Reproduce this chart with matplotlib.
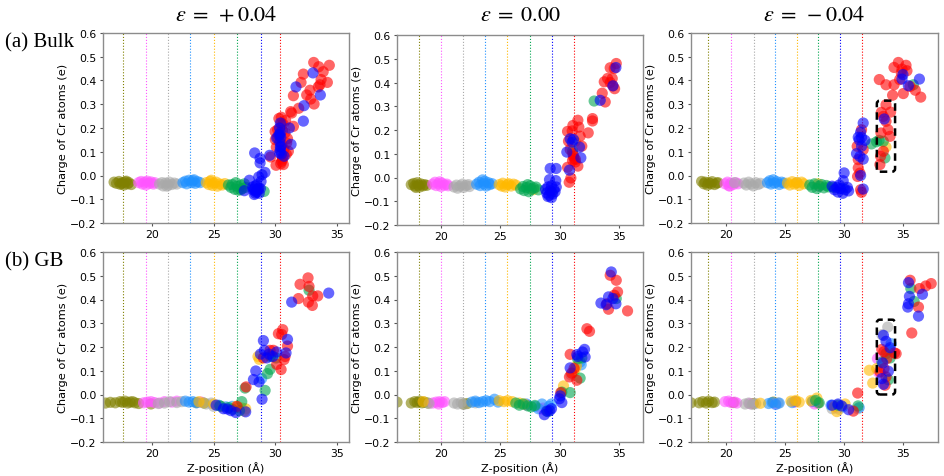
import matplotlib
matplotlib.use("Agg")
import matplotlib.pyplot as plt
from matplotlib.patches import FancyBboxPatch

# ---------------- data ----------------
col_names = ["olive", "pink", "gray", "lightblue", "orange", "green", "blue", "red"]
col_values = ["#808000", "#ff55ff", "#a9a9a9", "#1e90ff", "#ffb900", "#00a64f", "#0000ff", "#ff0000"]

titles = [r"$\varepsilon\;=\;+0.04$", r"$\varepsilon\;=\;0.00$", r"$\varepsilon\;=\;-0.04$"]
row_labels = ["(a) Bulk", "(b) GB"]
y_ticks = [-0.2, -0.1, 0.0, 0.1, 0.2, 0.3, 0.4, 0.5, 0.6]

lines_p04 = [17.62, 19.46, 21.25, 23.11, 25.0, 26.93, 28.83, 30.43]
lines_000 = [18.12, 19.97, 21.83, 23.68, 25.56, 27.5, 29.38, 31.18]
lines_m04 = [18.47, 20.43, 22.39, 24.12, 25.97, 27.84, 29.68, 31.5]

# ---- (a) Bulk, eps=+0.04
tl_olive = [(16.9,-0.028),(17.1,-0.033),(17.3,-0.025),(17.4,-0.037),(17.6,-0.030),(17.7,-0.040),(17.8,-0.027),(18.0,-0.035),(18.1,-0.030),(18.3,-0.038),(17.5,-0.034),(17.9,-0.024)]
tl_pink = [(18.9,-0.030),(19.1,-0.025),(19.2,-0.036),(19.4,-0.028),(19.5,-0.040),(19.6,-0.024),(19.8,-0.033),(19.9,-0.027),(20.1,-0.036),(20.2,-0.030)]
tl_gray = [(20.6,-0.036),(20.8,-0.030),(20.9,-0.044),(21.1,-0.032),(21.3,-0.040),(21.4,-0.028),(21.6,-0.038),(21.8,-0.032),(22.0,-0.036),(21.2,-0.045)]
tl_lightblue = [(22.5,-0.030),(22.7,-0.024),(22.8,-0.035),(23.0,-0.020),(23.2,-0.030),(23.3,-0.022),(23.5,-0.033),(23.7,-0.026),(23.9,-0.030),(23.4,-0.018)]
tl_orange = [(24.4,-0.030),(24.6,-0.038),(24.7,-0.025),(24.9,-0.042),(25.0,-0.032),(25.2,-0.028),(25.3,-0.045),(25.5,-0.036),(25.7,-0.040),(25.9,-0.034),(24.8,-0.020)]
tl_green = [(26.2,-0.040),(26.4,-0.050),(26.5,-0.038),(26.7,-0.058),(26.9,-0.045),(27.0,-0.062),(27.2,-0.040),(27.3,-0.055),(27.5,-0.035),(27.6,-0.050),(26.8,-0.030),(29.1,-0.067),(27.2,-0.060)]
tl_blue = [(33.07,0.432),(31.69,0.373),(32.34,0.294),(32.29,0.229),(33.67,0.339),(30.42,0.221),(31.15,0.200),(30.39,0.172),(30.12,0.158),(31.29,0.131),(30.47,0.123),(30.36,0.095),(30.72,0.081),(29.55,0.085),(28.33,0.095),(28.77,0.072),(28.77,0.053),(29.17,0.013),(28.93,0.003),(28.66,-0.006),(27.90,-0.020),(28.30,-0.057),(28.66,-0.053),(28.39,-0.074),(27.49,-0.064),(28.85,-0.025),(28.50,-0.039),(28.17,-0.048),(28.2,-0.060),(28.4,-0.065),(28.5,-0.070),(28.6,-0.060),(28.7,-0.075),(28.3,-0.080),(28.8,-0.055),(28.4,-0.045),(30.35,0.200),(30.40,0.180),(30.45,0.160),(30.38,0.140),(30.42,0.120),(30.40,0.105),(30.50,0.090),(30.30,0.170)]
tl_red = [(33.13,0.476),(33.54,0.458),(34.40,0.464),(33.90,0.437),(32.29,0.427),(32.10,0.392),(33.73,0.404),(34.24,0.392),(33.64,0.382),(33.50,0.373),(32.83,0.359),(32.56,0.339),(31.48,0.336),(32.89,0.322),(33.16,0.301),(31.91,0.283),(31.26,0.269),(31.34,0.263),(30.50,0.245),(30.85,0.232),(30.64,0.217),(31.48,0.207),(29.99,0.185),(30.20,0.193),(30.01,0.151),(30.93,0.137),(30.09,0.119),(31.07,0.102),(30.58,0.078),(30.07,0.043),(30.66,0.046),(30.53,0.060),(29.63,0.078),(30.30,0.240),(30.50,0.220),(30.60,0.190),(30.20,0.160),(30.55,0.130),(30.70,0.110),(30.60,0.070),(30.45,0.050),(30.90,0.090),(31.00,0.155),(30.80,0.180)]

# ---- (a) Bulk, eps=0.00
tm_olive = [(17.5,-0.030),(17.7,-0.025),(17.8,-0.036),(18.0,-0.022),(18.1,-0.032),(18.2,-0.040),(18.3,-0.027),(18.5,-0.035),(18.6,-0.030),(18.8,-0.033),(17.9,-0.042)]
tm_pink = [(19.3,-0.028),(19.5,-0.020),(19.6,-0.034),(19.8,-0.026),(20.0,-0.038),(20.1,-0.024),(20.3,-0.032),(20.5,-0.028),(20.6,-0.035),(19.9,-0.018)]
tm_gray = [(21.1,-0.040),(21.3,-0.032),(21.4,-0.045),(21.6,-0.036),(21.8,-0.028),(21.9,-0.042),(22.1,-0.034),(22.3,-0.030),(22.4,-0.038)]
tm_lightblue = [(23.0,-0.028),(23.2,-0.020),(23.3,-0.034),(23.5,-0.010),(23.6,-0.026),(23.8,-0.036),(24.0,-0.022),(24.1,-0.030),(24.3,-0.026),(23.7,-0.016)]
tm_orange = [(24.9,-0.030),(25.1,-0.036),(25.2,-0.024),(25.4,-0.040),(25.6,-0.030),(25.7,-0.026),(25.9,-0.036),(26.1,-0.028),(26.3,-0.032),(27.78,-0.051),(31.29,0.152)]
tm_green = [(26.7,-0.048),(26.9,-0.038),(27.0,-0.055),(27.2,-0.042),(27.4,-0.060),(27.5,-0.035),(27.6,-0.050),(27.8,-0.044),(28.0,-0.040),(28.2,-0.052),(27.3,-0.030),(29.33,-0.062),(32.89,0.322),(31.07,0.111)]
tm_blue = [(28.8,-0.050),(28.9,-0.065),(29.0,-0.040),(29.1,-0.075),(29.2,-0.055),(29.3,-0.035),(29.4,-0.070),(29.5,-0.050),(29.6,-0.060),(29.7,-0.040),(29.0,-0.080),(29.3,-0.085),(34.72,0.463),(34.47,0.386),(33.40,0.325),(30.87,0.163),(31.15,0.160),(31.04,0.149),(31.66,0.128),(30.59,0.107),(31.77,0.083),(30.81,0.031),(29.19,0.038),(29.69,0.038),(29.66,-0.013),(29.13,-0.009)]
tm_red = [(34.75,0.480),(34.24,0.462),(34.58,0.459),(33.74,0.403),(34.02,0.417),(34.41,0.417),(34.24,0.400),(34.61,0.374),(34.47,0.386),(33.57,0.355),(33.82,0.318),(32.75,0.248),(32.75,0.238),(31.52,0.241),(31.10,0.219),(31.60,0.212),(30.65,0.194),(32.39,0.188),(31.04,0.196),(31.71,0.174),(30.73,0.153),(31.85,0.132),(30.87,0.118),(31.15,0.090),(31.07,0.072),(31.32,0.076),(31.52,0.048),(30.65,0.043),(30.93,-0.002),(30.79,-0.020),(31.2,0.080),(31.1,0.100),(31.3,0.065)]

# ---- (a) Bulk, eps=-0.04
tr_olive = [(17.9,-0.025),(18.1,-0.035),(18.2,-0.028),(18.4,-0.040),(18.5,-0.030),(18.7,-0.035),(18.8,-0.026),(19.0,-0.038),(19.2,-0.032),(19.3,-0.030)]
tr_pink = [(19.9,-0.035),(20.1,-0.028),(20.2,-0.042),(20.4,-0.032),(20.6,-0.038),(20.8,-0.030),(21.0,-0.035),(20.3,-0.045),(27.9,-0.045)]
tr_gray = [(21.5,-0.032),(21.7,-0.040),(21.9,-0.028),(22.1,-0.036),(22.3,-0.044),(22.5,-0.030),(22.7,-0.038),(22.9,-0.033),(20.7,-0.030),(26.0,-0.030),(30.0,-0.050)]
tr_lightblue = [(23.5,-0.030),(23.7,-0.022),(23.8,-0.036),(24.0,-0.018),(24.1,-0.032),(24.3,-0.026),(24.5,-0.038),(24.7,-0.028),(24.9,-0.032),(29.9,-0.055)]
tr_orange = [(25.2,-0.032),(25.4,-0.040),(25.6,-0.026),(25.8,-0.036),(26.0,-0.030),(26.2,-0.042),(26.4,-0.028),(26.6,-0.035),(27.8,-0.035),(33.58,0.120)]
tr_green = [(27.1,-0.040),(27.3,-0.050),(27.5,-0.035),(27.7,-0.055),(27.9,-0.045),(28.1,-0.038),(28.3,-0.052),(28.5,-0.042),(28.7,-0.048),(29.1,-0.050),(35.90,0.382),(32.35,0.133),(32.78,0.142),(33.35,0.144),(33.49,0.074),(32.99,0.148)]
tr_blue = [(29.0,-0.045),(29.2,-0.060),(29.4,-0.050),(29.5,-0.070),(29.7,-0.055),(29.9,-0.075),(30.1,-0.060),(30.3,-0.050),(29.6,-0.040),(30.4,-0.065),(36.42,0.406),(35.02,0.425),(35.48,0.378),(34.94,0.406),(33.43,0.238),(31.64,0.221),(31.42,0.182),(31.22,0.161),(31.79,0.148),(31.50,0.123),(31.07,0.092),(31.64,0.069),(31.36,0.080),(31.42,0.000),(30.02,0.011),(31.64,-0.057),(29.94,-0.022),(31.3,0.150),(31.5,0.160)]
tr_red = [(34.63,0.476),(34.26,0.455),(35.28,0.464),(34.94,0.448),(35.36,0.441),(34.88,0.432),(33.01,0.404),(33.58,0.382),(34.26,0.382),(34.74,0.404),(36.07,0.359),(35.62,0.375),(36.53,0.330),(35.05,0.345),(34.14,0.338),(33.58,0.298),(33.18,0.266),(33.97,0.267),(33.35,0.249),(33.58,0.228),(33.75,0.193),(33.15,0.179),(33.92,0.165),(33.35,0.102),(33.12,0.081),(33.06,0.046),(31.50,0.193),(31.13,0.123),(31.64,0.109),(31.22,0.067),(31.22,0.032),(31.16,-0.004),(31.36,0.010),(31.50,-0.071),(31.42,-0.060)]

# ---- (b) GB, eps=+0.04
bl_olive = [(16.2,-0.036),(16.6,-0.033),(17.0,-0.035),(17.4,-0.030),(17.6,-0.033),(17.8,-0.028),(18.0,-0.036),(18.2,-0.032),(18.4,-0.030),(18.6,-0.035),(18.9,-0.038),(19.9,-0.040),(23.6,-0.034),(25.6,-0.050)]
bl_pink = [(19.3,-0.035),(19.6,-0.032),(19.9,-0.030),(20.2,-0.034),(20.6,-0.036),(21.0,-0.030),(21.6,-0.032),(22.0,-0.028),(24.0,-0.032)]
bl_gray = [(20.5,-0.038),(21.0,-0.036),(21.4,-0.030),(22.0,-0.034),(22.4,-0.030),(24.4,-0.040),(25.0,-0.050),(24.8,-0.036)]
bl_lightblue = [(22.7,-0.028),(23.0,-0.032),(23.3,-0.030),(23.6,-0.035),(24.2,-0.036),(25.4,-0.045),(26.0,-0.052),(28.9,0.067),(26.5,-0.050)]
bl_orange = [(23.8,-0.030),(24.2,-0.036),(25.0,-0.040),(26.8,-0.050),(27.0,-0.055),(27.3,-0.057),(27.5,-0.070),(28.71,0.148),(29.64,0.165),(28.6,0.160),(27.6,-0.060)]
bl_green = [(25.5,-0.048),(26.2,-0.055),(26.5,-0.062),(27.1,-0.068),(27.28,-0.030),(27.55,0.027),(29.18,0.017),(29.37,0.088),(29.58,0.106),(30.07,0.154),(32.75,0.439),(29.6,0.160)]
bl_blue = [(25.2,-0.045),(25.8,-0.060),(26.1,-0.061),(26.4,-0.068),(26.8,-0.076),(27.6,-0.073),(28.93,-0.020),(28.23,0.063),(28.42,0.099),(28.69,0.053),(29.04,0.227),(29.12,0.186),(29.31,0.154),(30.12,0.179),(30.88,0.175),(31.0,0.232),(31.34,0.389),(34.35,0.427),(28.8,0.170),(29.5,0.170),(29.8,0.160)]
bl_red = [(32.67,0.491),(32.02,0.464),(32.75,0.455),(33.05,0.415),(33.46,0.415),(31.89,0.404),(32.70,0.389),(33.02,0.375),(30.61,0.273),(30.26,0.256),(30.53,0.253),(31.0,0.204),(30.72,0.147),(30.48,0.105),(30.12,0.127),(29.85,0.186),(29.58,0.186),(29.04,0.154),(27.63,0.032),(30.8,0.160),(26.9,-0.050)]

# ---- (b) GB, eps=0.00
bm_olive = [(16.3,-0.032),(17.5,-0.036),(17.8,-0.030),(18.0,-0.034),(18.2,-0.028),(18.4,-0.035),(18.6,-0.032),(18.9,-0.036),(21.9,-0.040),(22.2,-0.038)]
bm_pink = [(19.3,-0.036),(19.6,-0.032),(19.9,-0.030),(20.1,-0.034),(20.3,-0.030),(19.8,-0.040),(27.2,-0.044),(28.45,-0.061),(28.6,-0.057)]
bm_gray = [(19.0,-0.038),(21.1,-0.036),(21.4,-0.040),(21.7,-0.034),(21.9,-0.042),(22.9,-0.035),(28.9,-0.065),(30.93,0.083)]
bm_lightblue = [(22.6,-0.032),(22.9,-0.028),(23.2,-0.034),(23.5,-0.030),(23.8,-0.026),(24.1,-0.030),(24.5,-0.020),(24.8,-0.032),(27.2,-0.040),(27.9,-0.050),(28.2,-0.060),(28.5,-0.040),(29.1,-0.050),(29.3,-0.040),(31.71,0.137),(31.8,0.125)]
bm_orange = [(18.5,-0.030),(24.9,-0.026),(25.3,-0.030),(25.6,-0.026),(26.0,-0.030),(26.6,-0.036),(27.0,-0.040),(30.31,0.036),(31.29,0.106),(31.15,0.095),(31.4,0.120)]
bm_green = [(26.3,-0.036),(26.6,-0.045),(26.9,-0.040),(27.3,-0.048),(27.6,-0.052),(27.9,-0.046),(29.0,-0.072),(30.17,0.010),(30.87,0.008),(31.71,0.069),(31.85,0.154),(34.75,0.404),(31.5,0.150)]
bm_blue = [(28.7,-0.085),(28.9,-0.070),(29.15,-0.068),(29.3,-0.060),(29.97,-0.018),(30.03,-0.006),(30.17,-0.034),(30.87,0.112),(31.43,0.168),(32.08,0.190),(31.91,0.179),(32.13,0.158),(34.33,0.516),(33.46,0.385),(34.10,0.411),(34.72,0.382),(33.90,0.378),(34.47,0.404),(31.5,0.160)]
bm_red = [(34.24,0.502),(34.75,0.481),(34.86,0.432),(34.58,0.418),(33.96,0.382),(34.10,0.359),(35.70,0.352),(32.28,0.277),(32.50,0.266),(30.87,0.169),(30.81,0.074),(31.43,0.060),(30.08,0.008),(31.2,0.110),(31.0,0.090)]

# ---- (b) GB, eps=-0.04
br_olive = [(17.0,-0.035),(17.7,-0.035),(18.0,-0.030),(18.3,-0.036),(18.5,-0.028),(18.8,-0.034),(19.0,-0.032),(20.6,-0.034),(22.3,-0.038),(24.0,-0.032),(25.9,-0.030),(27.3,-0.030),(27.8,-0.036)]
br_pink = [(19.9,-0.030),(20.2,-0.028),(20.4,-0.034),(20.7,-0.032),(20.9,-0.036),(22.0,-0.038),(24.2,-0.040),(25.8,-0.032),(27.5,-0.040),(29.3,-0.055),(32.85,0.151),(32.93,0.095)]
br_gray = [(21.6,-0.040),(21.9,-0.036),(22.2,-0.042),(22.5,-0.038),(24.4,-0.036),(29.0,-0.060),(29.6,-0.062),(31.2,-0.060),(33.73,0.284),(33.22,0.252)]
br_lightblue = [(23.6,-0.038),(23.9,-0.034),(24.2,-0.042),(24.5,-0.036),(25.6,-0.034),(27.4,-0.028),(28.9,-0.045),(29.9,-0.052),(31.3,-0.055),(34.01,0.214),(33.9,0.190)]
br_orange = [(22.9,-0.037),(25.5,-0.028),(25.9,-0.025),(26.2,-0.032),(27.7,-0.015),(27.2,-0.025),(29.2,-0.050),(29.4,-0.072),(30.1,-0.040),(32.16,0.102),(32.45,0.048),(32.79,0.109)]
br_green = [(27.6,-0.025),(27.9,-0.035),(29.5,-0.045),(31.2,-0.048),(33.58,0.172),(33.93,0.154),(33.78,0.062),(33.22,0.137),(35.69,0.446),(35.97,0.392)]
br_blue = [(29.0,-0.045),(29.5,-0.040),(29.8,-0.048),(30.4,-0.064),(35.49,0.471),(35.57,0.413),(36.68,0.422),(35.49,0.382),(35.43,0.368),(36.34,0.330),(33.58,0.224),(33.93,0.197),(33.78,0.098),(33.30,0.133),(33.36,0.043),(33.22,0.067),(33.36,0.249)]
br_red = [(30.8,-0.070),(31.17,0.006),(33.22,0.190),(34.44,0.172),(33.64,0.151),(33.41,0.109),(33.07,0.095),(33.58,0.074),(33.50,0.039),(35.63,0.481),(36.42,0.446),(36.96,0.457),(37.42,0.467),(36.34,0.368),(35.77,0.259),(33.40,0.180),(34.30,0.175)]

panels = [
    [tl_olive, tl_pink, tl_gray, tl_lightblue, tl_orange, tl_green, tl_red, tl_blue],
    [tm_olive, tm_pink, tm_gray, tm_lightblue, tm_orange, tm_green, tm_red, tm_blue],
    [tr_olive, tr_pink, tr_gray, tr_lightblue, tr_orange, tr_green, tr_red, tr_blue],
    [bl_olive, bl_pink, bl_gray, bl_lightblue, bl_orange, bl_green, bl_red, bl_blue],
    [bm_olive, bm_pink, bm_gray, bm_lightblue, bm_orange, bm_green, bm_red, bm_blue],
    [br_olive, br_pink, br_gray, br_lightblue, br_orange, br_green, br_red, br_blue],
]
# plotting order maps to colours
order_colors = ["#808000", "#ff55ff", "#a9a9a9", "#1e90ff", "#ffb900", "#00a64f", "#ff0000", "#0000ff"]
panel_lines = [lines_p04, lines_000, lines_m04, lines_p04, lines_000, lines_m04]
panel_xlim = [(16.0, 36.0), (16.3, 37.0), (17.0, 38.0), (16.0, 36.0), (16.3, 37.0), (17.0, 38.0)]
# dashed boxes (x0, y0, x1, y1) in panels 2 and 5
boxes = {2: (32.8, 0.016, 34.35, 0.315), 5: (32.8, 0.0, 34.35, 0.315)}

# ---------------- figure ----------------
W, H = 945, 477
fig = plt.figure(figsize=(W / 100, H / 100), dpi=100)
plt.rcParams["mathtext.fontset"] = "stix"

px_boxes = [(103, 34, 349, 224), (397, 36, 643, 226), (691, 34, 938, 224),
            (103, 253, 349, 443), (397, 253, 643, 443), (691, 253, 938, 443)]

for i, (x0, y0, x1, y1) in enumerate(px_boxes):
    ax = fig.add_axes([x0 / W, 1 - y1 / H, (x1 - x0) / W, (y1 - y0) / H])
    for c, xv in zip(col_values, panel_lines[i]):
        ax.axvline(xv, color=c, lw=0.8, ls=":", zorder=1)
    for pts, c in zip(panels[i], order_colors):
        xs = [p[0] for p in pts]
        ys = [p[1] for p in pts]
        ax.scatter(xs, ys, s=65, color=c, alpha=0.6, edgecolors="none", zorder=2)
    ax.set_xlim(*panel_xlim[i])
    ax.set_ylim(-0.2, 0.6)
    ax.set_yticks(y_ticks)
    ax.set_yticklabels([f"{v:.1f}".replace("-", "\u2212") for v in y_ticks])
    ax.set_xticks([20, 25, 30, 35])
    ax.tick_params(labelsize=7.8, length=2.5, pad=2, color="#555555")
    for sp in ax.spines.values():
        sp.set_color("#8c8c8c")
        sp.set_linewidth(1.0)
    ax.set_ylabel("Charge of Cr atoms (e)", fontsize=8.2, labelpad=2)
    if i >= 3:
        ax.set_xlabel("Z-position (\u00c5)", fontsize=8.2, labelpad=2)
    if i in boxes:
        bx0, by0, bx1, by1 = boxes[i]
        patch = FancyBboxPatch((bx0, by0), bx1 - bx0, by1 - by0,
                               boxstyle="round,pad=0,rounding_size=0.25",
                               mutation_aspect=0.05, fill=False, ec="black",
                               lw=1.8, ls=(0, (3, 2)), zorder=5)
        ax.add_patch(patch)
    if i < 3:
        fig.text((x0 + x1) / 2 / W, 1 - 15 / H, titles[i], ha="center", va="center", fontsize=16)

fig.text(5 / W, 1 - 43 / H, row_labels[0], ha="left", va="center", fontsize=15, family="Liberation Serif")
fig.text(5 / W, 1 - 262 / H, row_labels[1], ha="left", va="center", fontsize=15, family="Liberation Serif")

fig.savefig("out.png", dpi=100)
